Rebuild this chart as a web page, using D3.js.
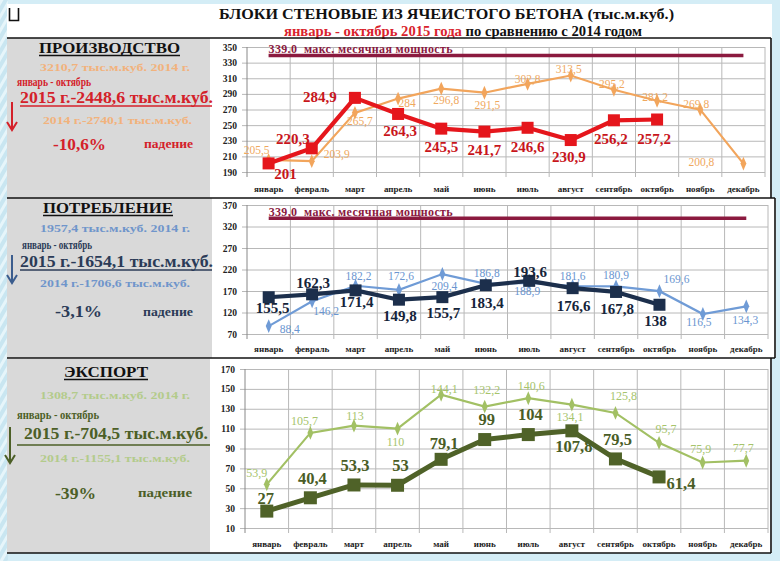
<!DOCTYPE html>
<html><head><meta charset="utf-8">
<script src="https://cdn.jsdelivr.net/npm/d3@7"></script>
<style>body{margin:0;background:#d3ecf5;} svg{display:block} text{font-family:"Liberation Serif","DejaVu Serif",serif;}</style>
</head><body><svg id="c" width="780" height="561"></svg>
<script>
// ---------- DATA ----------
const months = ["январь","февраль","март","апрель","май","июнь","июль","август","сентябрь","октябрь","ноябрь","декабрь"];
const prod2015 = [201, 220.3, 284.9, 264.3, 245.5, 241.7, 246.6, 230.9, 256.2, 257.2];
const prod2014 = [205.5, 203.9, 265.7, 284, 296.8, 291.5, 302.8, 313.5, 295.2, 281.2, 269.8, 200.8];
const cons2015 = [155.5, 162.3, 171.4, 149.8, 155.7, 183.4, 193.6, 176.6, 167.8, 138];
const cons2014 = [88.4, 146.2, 182.2, 172.6, 209.4, 186.8, 188.9, 181.6, 180.9, 169.6, 116.5, 134.3];
const exp2015 = [27, 40.4, 53.3, 53, 79.1, 99, 104, 107.8, 79.5, 61.4];
const exp2014 = [53.9, 105.7, 113, 110, 144.1, 132.2, 140.6, 134.1, 125.8, 95.7, 75.9, 77.7];
const maxCapacity = 339.0;
const prodTicks = [190, 210, 230, 250, 270, 290, 310, 330, 350];
const consTicks = [70, 120, 170, 220, 270, 320, 370];
const expTicks = [10, 30, 50, 70, 90, 110, 130, 150, 170];

// ---------- LAYOUT (label offsets in px) ----------
const offProd15 = [[17,10],[-19,-10],[-35,-1],[2,17],[0,18],[0,18],[0,19],[-2,17],[-3,18],[-3,19]];
const offProd14 = [[-12,-10],[25,-7],[5,8],[9,4],[5,11],[3,12],[0,-5],[-2,-7],[-2,-6],[-2,-4],[-4,-6],[-42,-2]];
const offCons15 = [[4,11],[1,-12],[1,11],[1,16],[1,16],[1,18],[1,-9],[1,18],[1,17],[-4,16]];
const offCons14 = [[21,3],[14,10],[3,-10],[2,-14],[2,12],[1,-11],[-2,8],[0,-10],[0,-11],[17,-12],[-4,8],[-1,14]];
const offExp15 = [[-1,-13],[2,-20],[1,-20],[3,-20],[3,-16],[2,-20],[2,-20],[2,15],[2,-20],[22,6]];
const offExp14 = [[-10,-12],[-6,-12],[1,-10],[-2,13],[3,-6],[2,-17],[3,-12],[-2,12],[8,-17],[7,-14],[-2,-14],[-3,-13]];

const fmt = v => String(v).replace(".", ",");
const svg = d3.select("#c");

// ---------- BACKGROUND ----------
const defs = svg.append("defs");
const pat = defs.append("pattern").attr("id","stripes").attr("width",7).attr("height",7)
  .attr("patternUnits","userSpaceOnUse").attr("patternTransform","rotate(30)");
pat.append("rect").attr("width",7).attr("height",7).attr("fill","#c9e6f1");
pat.append("rect").attr("width",3).attr("height",7).attr("fill","#e6f5fa");
svg.append("rect").attr("width",780).attr("height",561).attr("fill","#d4edf6");
svg.append("rect").attr("width",8).attr("height",561).attr("fill","url(#stripes)");
svg.append("rect").attr("x",7).attr("y",4).attr("width",765).attr("height",549).attr("fill","#fff");
svg.append("rect").attr("x",772).attr("y",198).attr("width",4).attr("height",160).attr("fill","#fff");
svg.append("path").attr("d","M9.5,8 V20.5 H18.5 V8").attr("fill","none").attr("stroke","#111").attr("stroke-width",1.6);

// title
svg.append("text").attr("x",219).attr("y",19).attr("textLength",455).attr("lengthAdjust","spacingAndGlyphs")
  .attr("font-size",14).attr("font-weight","bold").attr("fill","#111").text("БЛОКИ СТЕНОВЫЕ ИЗ ЯЧЕИСТОГО БЕТОНА (тыс.м.куб.)");
const sub = svg.append("text").attr("x",284).attr("y",36).attr("textLength",358).attr("lengthAdjust","spacingAndGlyphs")
  .attr("font-size",14).attr("font-weight","bold");
sub.append("tspan").attr("fill","#d9232d").text("январь - октябрь 2015 года");
sub.append("tspan").attr("fill","#111").text(" по сравнению с 2014 годом");

// panels: grey side boxes
const panels = [
  {gx:7, gy:38, gw:203, gh:160},
  {gx:7, gy:198, gw:205, gh:160},
  {gx:7, gy:359, gw:203, gh:194}
];
panels.forEach(p => svg.append("rect").attr("x",p.gx).attr("y",p.gy).attr("width",p.gw).attr("height",p.gh).attr("fill","#d9d9d9"));
const blk = (x1,y1,x2,y2,w) => svg.append("line").attr("x1",x1).attr("y1",y1).attr("x2",x2).attr("y2",y2).attr("stroke","#111").attr("stroke-width",w||1.6);
blk(7,38,771,38); blk(7,198,775,198); blk(7,358,775,358); blk(7,553,771,553);
blk(771,38,771,198); blk(775,198,775,358); blk(771,358,771,553);

// ---------- SIDE TEXTS ----------
function sideText(x, y, len, size, color, str){
  svg.append("text").attr("x",x).attr("y",y).attr("textLength",len).attr("lengthAdjust","spacingAndGlyphs")
    .attr("font-size",size).attr("font-weight","bold").attr("fill",color).text(str);
}
function arrow(x, y1, y2, color){
  svg.append("line").attr("x1",x).attr("y1",y1).attr("x2",x).attr("y2",y2-2).attr("stroke",color).attr("stroke-width",2);
  svg.append("path").attr("d",`M${x-5},${y2-8} L${x},${y2} L${x+5},${y2-8}`).attr("fill","none").attr("stroke",color).attr("stroke-width",2);
}
function sep(x1,x2,y,color){ svg.append("line").attr("x1",x1).attr("x2",x2).attr("y1",y).attr("y2",y).attr("stroke",color).attr("stroke-width",1.6); }

const sides = [
  {title:"ПРОИЗВОДСТВО", tx:[39,141], ty:53, tot:"3210,7 тыс.м.куб. 2014 г.", totY:71, per:[17,74], perY:86,
   big:"2015 г.-2448,6 тыс.м.куб.", big2:[20,193], bigY:103, lineY:106, lineX:[20,212], arr:[12,102,130],
   prev:"2014 г.-2740,1 тыс.м.куб.", prevX:[43,149], prevY:124, pct:"-10,6%", pctX:[53,53], pctY:150, fallX:[144,49], fallY:148,
   light:"#f2b27c", dark:"#d4212a", bigSize:16},
  {title:"ПОТРЕБЛЕНИЕ", tx:[43,130], ty:213, tot:"1957,4 тыс.м.куб. 2014 г.", totY:232, per:[22,70], perY:249,
   big:"2015 г.-1654,1 тыс.м.куб.", big2:[20,193], bigY:267, lineY:270, lineX:[20,212], arr:[12,255,283],
   prev:"2014 г.-1706,6 тыс.м.куб.", prevX:[40,150], prevY:287, pct:"-3,1%", pctX:[55,47], pctY:317, fallX:[143,50], fallY:316,
   light:"#6f95cb", dark:"#2b3b57", bigSize:16, arrColor:"#3b5d8e"},
  {title:"ЭКСПОРТ", tx:[64,84], ty:377, tot:"1308,7 тыс.м.куб. 2014 г.", totY:399, per:[17,82], perY:419,
   big:"2015 г.-704,5 тыс.м.куб.", big2:[24,184], bigY:439, lineY:445, lineX:[17,210], arr:[10,427,463],
   prev:"2014 г.-1155,1 тыс.м.куб.", prevX:[40,150], prevY:462, pct:"-39%", pctX:[55,41], pctY:499, fallX:[138,54], fallY:497,
   light:"#b3cb8b", dark:"#4c5f27", bigSize:17}
];
sides.forEach(s => {
  sideText(s.tx[0], s.ty, s.tx[1], 15, "#111", s.title);
  sep(s.tx[0], s.tx[0]+s.tx[1], s.ty+2.5, "#111");
  sideText(40, s.totY, 150, 11, s.light, s.tot);
  sideText(s.per[0], s.perY, s.per[1], 12, s.dark, "январь - октябрь");
  sideText(s.big2[0], s.bigY, s.big2[1], s.bigSize, s.dark, s.big);
  sep(s.lineX[0], s.lineX[1], s.lineY, s.dark);
  arrow(s.arr[0], s.arr[1], s.arr[2], s.arrColor || s.dark);
  sideText(s.prevX[0], s.prevY, s.prevX[1], 11, s.light, s.prev);
  sideText(s.pctX[0], s.pctY, s.pctX[1], 16, s.dark, s.pct);
  sideText(s.fallX[0], s.fallY, s.fallX[1], 11.5, s.dark, "падение");
});

// ---------- CHART PANELS ----------
function drawPanel(cfg){
  const g = svg.append("g");
  const x = d3.scaleBand().domain(months).range([cfg.x0, cfg.x1]);
  const cx = i => x(months[i]) + x.bandwidth()/2;
  const y = d3.scaleLinear().domain([cfg.ticks[0], cfg.ticks[cfg.ticks.length-1]]).range([cfg.yBot, cfg.yTop]);

  // horizontal grid + y axis labels
  const ya = d3.axisLeft(y).tickValues(cfg.ticks).tickSize(-(cfg.x1-cfg.x0)).tickPadding(10);
  const yg = g.append("g").attr("transform",`translate(${cfg.x0},0)`).call(ya);
  yg.select(".domain").remove();
  yg.selectAll("line").attr("stroke","#b8b8b8").attr("x1",-5);
  yg.selectAll("text").attr("font-size",9.5).attr("font-weight","bold").attr("fill","#222")
    .style("font-family",'"Liberation Serif",serif');
  // vertical grid at band boundaries
  const bounds = months.map(m => x(m)).concat([cfg.x1]);
  g.selectAll(".vg").data(bounds).join("line").attr("x1",d=>d).attr("x2",d=>d)
    .attr("y1",cfg.yTop).attr("y2",cfg.yBot+5).attr("stroke",(d,i)=>i===0?"#888":"#b8b8b8").attr("stroke-width",1);
  // month labels
  const xa = d3.axisBottom(x).tickSize(0).tickPadding(0);
  const xg = g.append("g").attr("transform",`translate(0,${cfg.labY})`).call(xa);
  xg.select(".domain").remove();
  xg.selectAll("text").attr("font-size",9).attr("font-weight","bold").attr("fill","#222").attr("dy","0.35em")
    .style("font-family",'"Liberation Serif",serif');

  // max capacity line
  if (cfg.maxLabel){
    g.append("line").attr("x1",cx(0)).attr("x2",cx(11)).attr("y1",y(maxCapacity)).attr("y2",y(maxCapacity))
      .attr("stroke","#8b1a3f").attr("stroke-width",3.5);
    g.append("text").attr("x",cx(0)).attr("y",y(maxCapacity)-2.5).attr("font-size",12).attr("font-weight","bold")
      .attr("textLength",184).attr("lengthAdjust","spacing")
      .attr("fill","#8b1a3f").style("white-space","pre").text(cfg.maxLabel);
  }

  const line = d3.line().x((d,i)=>cx(i)).y(d=>y(d));
  // previous-year series
  g.append("path").datum(cfg.prev).attr("d",line).attr("fill","none").attr("stroke",cfg.prevColor).attr("stroke-width",2.2);
  g.selectAll(".dm").data(cfg.prev).join("path")
    .attr("d", d3.symbol(d3.symbolDiamond, 42)).attr("transform",(d,i)=>`translate(${cx(i)},${y(d)}) scale(0.85,1.15)`)
    .attr("fill",cfg.prevColor);
  // current-year series
  g.append("path").datum(cfg.cur).attr("d",line).attr("fill","none").attr("stroke",cfg.curColor)
    .attr("stroke-width",cfg.curW).attr("stroke-linejoin","round");
  g.selectAll(".sq").data(cfg.cur).join("rect")
    .attr("x",(d,i)=>cx(i)-cfg.sq/2).attr("y",d=>y(d)-cfg.sq/2).attr("width",cfg.sq).attr("height",cfg.sq)
    .attr("fill",cfg.curColor);

  // labels
  g.selectAll(".pl").data(cfg.prev).join("text")
    .attr("x",(d,i)=>cx(i)+cfg.offPrev[i][0]).attr("y",(d,i)=>y(d)+cfg.offPrev[i][1]).attr("dy","0.35em")
    .attr("text-anchor","middle").attr("font-size",cfg.prevSize).attr("fill",cfg.prevText).text(d=>fmt(d));
  g.selectAll(".cl").data(cfg.cur).join("text")
    .attr("x",(d,i)=>cx(i)+cfg.offCur[i][0]).attr("y",(d,i)=>y(d)+cfg.offCur[i][1]).attr("dy","0.35em")
    .attr("text-anchor","middle").attr("font-size",cfg.curSize).attr("font-weight","bold").attr("fill",cfg.curText).text(d=>fmt(d));
}

drawPanel({x0:247, x1:765, yTop:47, yBot:172, labY:189, ticks:prodTicks,
  maxLabel: maxCapacity.toFixed(1) + "  макс. месячная мощность",
  prev:prod2014, cur:prod2015, prevColor:"#f2a55c", curColor:"#e5161c", curW:4.2, sq:12,
  prevText:"#efa85e", curText:"#c8151b", prevSize:11.5, curSize:15, offPrev:offProd14, offCur:offProd15});

drawPanel({x0:247, x1:768, yTop:205, yBot:334, labY:349, ticks:consTicks,
  maxLabel: fmt(maxCapacity.toFixed(1)) + "  макс. месячная мощность",
  prev:cons2014, cur:cons2015, prevColor:"#6f9bd6", curColor:"#1c2f4c", curW:4.2, sq:12,
  prevText:"#6a95d0", curText:"#15243a", prevSize:11.5, curSize:15, offPrev:offCons14, offCur:offCons15});

drawPanel({x0:245, x1:768, yTop:369, yBot:528, labY:544, ticks:expTicks, maxLabel:null,
  prev:exp2014, cur:exp2015, prevColor:"#a2c064", curColor:"#4f6228", curW:5, sq:13,
  prevText:"#a6c46c", curText:"#4a5d26", prevSize:12, curSize:16.5, offPrev:offExp14, offCur:offExp15});
</script>
</body></html>
